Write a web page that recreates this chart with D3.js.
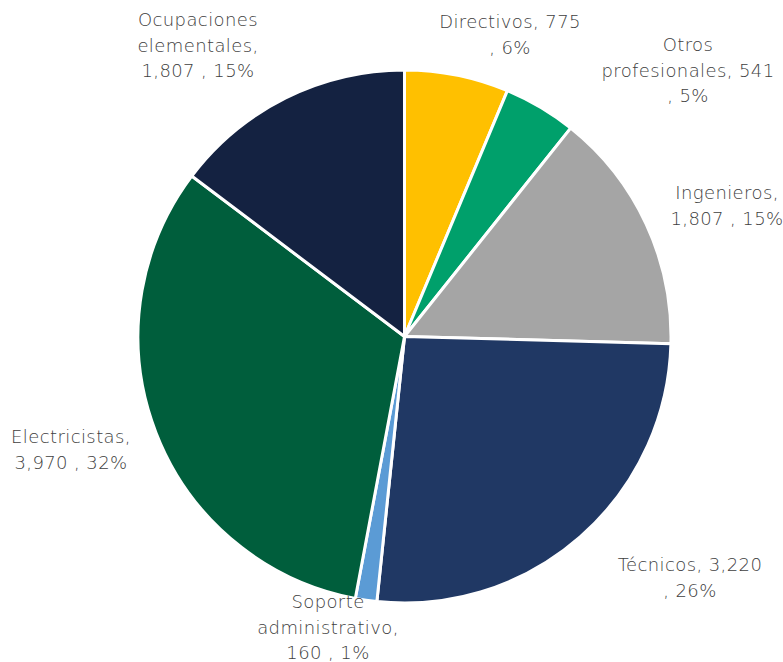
<!DOCTYPE html>
<html>
<head>
<meta charset="utf-8">
<script src="https://cdn.jsdelivr.net/npm/d3@7"></script>
<style>
  html, body { margin: 0; padding: 0; background: #fff; }
  svg text { font-family: "DejaVu Sans", sans-serif; font-weight: 200; fill: #404040; }
</style>
</head>
<body>
<svg id="chart" width="783" height="662"></svg>
<script>
// Occupations and headcounts, clockwise from 12 o'clock
const categories = ["Directivos", "Otros profesionales", "Ingenieros", "Técnicos",
                    "Soporte administrativo", "Electricistas", "Ocupaciones elementales"];
const values = [775, 541, 1807, 3220, 160, 3970, 1807];
const percentLabels = [6, 5, 15, 26, 1, 32, 15];
const colors = ["#FFC000", "#00A06B", "#A5A5A5", "#203864", "#5B9BD5", "#005E3C", "#142241"];

// Label lines and anchor points for each slice
const labelLayout = [
  { x: 510, y: 22, lines: d => [`${d.name}, ${d.value}`, `, ${d.pct}%`] },
  { x: 688, y: 45, lines: d => ["Otros", `profesionales,  ${d.value}`, `, ${d.pct}%`] },
  { x: 727, y: 193, lines: d => [`${d.name},`, `${d.value} , ${d.pct}%`] },
  { x: 690, y: 565, lines: d => [`${d.name}, ${d.value}`, `, ${d.pct}%`] },
  { x: 328, y: 602, lines: d => ["Soporte", "administrativo,", `${d.value} , ${d.pct}%`] },
  { x: 71, y: 437, lines: d => [`${d.name},`, `${d.value} , ${d.pct}%`] },
  { x: 198, y: 20, lines: d => ["Ocupaciones", "elementales,", `${d.value} , ${d.pct}%`] }
];

const svg = d3.select("#chart");
const cx = 404.5, cy = 336.5, r = 266.5;
const fmt = d3.format(",");

const pie = d3.pie().sort(null).value(d => d.value);
const arc = d3.arc().innerRadius(0).outerRadius(r);

const data = categories.map((name, i) => ({
  name, value: values[i], pct: percentLabels[i], color: colors[i]
}));

const g = svg.append("g").attr("transform", `translate(${cx},${cy})`);
g.selectAll("path")
  .data(pie(data))
  .join("path")
  .attr("d", arc)
  .attr("fill", d => d.data.color)
  .attr("stroke", "#fff")
  .attr("stroke-width", 3)
  .attr("stroke-linejoin", "round");

const lineH = 25.5;
data.forEach((d, i) => {
  const L = labelLayout[i];
  const lines = L.lines({ name: d.name, value: fmt(d.value), pct: d.pct });
  const t = svg.append("text")
    .attr("text-anchor", "middle")
    .attr("font-size", 18)
    .attr("letter-spacing", 0.4);
  lines.forEach((s, k) => {
    t.append("tspan")
      .attr("x", L.x)
      .attr("y", L.y + k * lineH)
      .attr("dy", "0.35em")
      .text(s);
  });
});
</script>
</body>
</html>
